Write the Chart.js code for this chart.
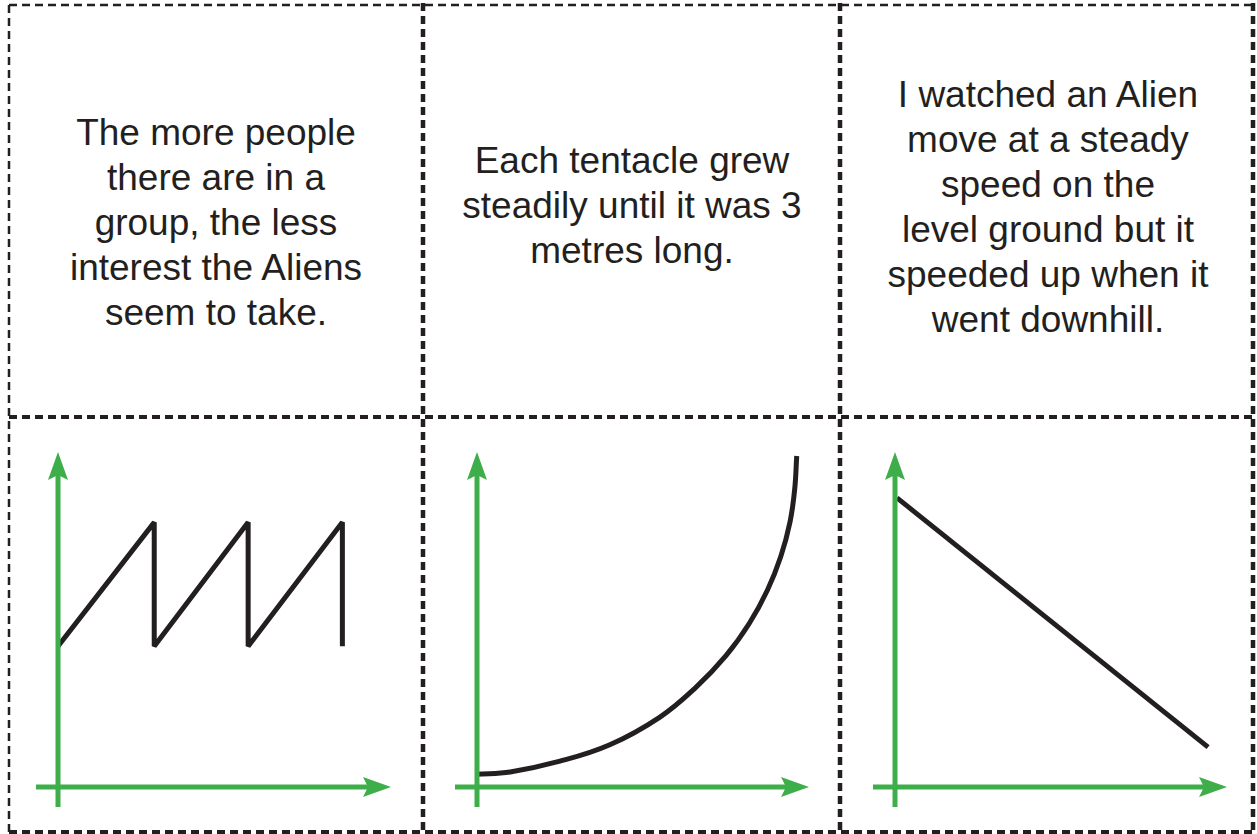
<!DOCTYPE html>
<html>
<head>
<meta charset="utf-8">
<script src="https://cdn.jsdelivr.net/npm/chart.js@4.4.1/dist/chart.umd.min.js"></script>
<style>
  html, body { margin: 0; padding: 0; background: #ffffff; }
  body { width: 1257px; height: 834px; overflow: hidden; position: relative; }
  svg.grid { position: absolute; left: 0; top: 0; }
  .card {
    position: absolute; width: 410px; text-align: center;
    font-family: "Liberation Sans", Arial, Helvetica, sans-serif;
    font-size: 37px; line-height: 45px; color: #231f20;
  }
  canvas { position: absolute; }
</style>
</head>
<body>
<script>
// ---- data (qualitative sketch graphs, unitless 0..10 axes) ----
const sawX   = [0, 2.89, 2.89, 5.71, 5.71, 8.54, 8.54];
const sawY   = [4.2, 7.9, 4.2, 7.9, 4.2, 7.9, 4.2];

const curveX = [0, 1.0, 2.5, 4.0, 5.5, 6.6, 7.5, 8.2, 8.75, 9.15, 9.43, 9.57, 9.63];
const curveY = [0.38, 0.45, 0.77, 1.26, 2.08, 2.98, 3.92, 4.88, 5.88, 6.88, 7.92, 8.9, 9.88];

const lineX  = [0.06, 9.43];
const lineY  = [8.63, 1.19];

const cardTexts = [
  ["The more people", "there are in a", "group, the less", "interest the Aliens", "seem to take."],
  ["Each tentacle grew", "steadily until it was 3", "metres long."],
  ["I watched an Alien", "move at a steady", "speed on the", "level ground but it", "speeded up when it", "went downhill."]
];
</script>

<svg class="grid" width="1257" height="834" xmlns="http://www.w3.org/2000/svg">
  <g stroke="#231f20" fill="none">
    <line x1="9" y1="5" x2="1255" y2="5" stroke-width="2.5" stroke-dasharray="8 5"/>
    <line x1="9" y1="5" x2="9" y2="834" stroke-width="2.5" stroke-dasharray="8 5"/>
    <line x1="9" y1="417" x2="1257" y2="417" stroke-width="4" stroke-dasharray="8 5"/>
    <line x1="423" y1="3" x2="423" y2="834" stroke-width="4.5" stroke-dasharray="8 5"/>
    <line x1="840" y1="3" x2="840" y2="834" stroke-width="4.5" stroke-dasharray="8 5"/>
    <line x1="1253" y1="3" x2="1253" y2="834" stroke-width="4.5" stroke-dasharray="8 5"/>
    <line x1="9" y1="832" x2="1257" y2="832" stroke-width="4" stroke-dasharray="8 5"/>
  </g>
</svg>

<div class="card" id="card0" style="left:11px; top:110px;"></div>
<div class="card" id="card1" style="left:427px; top:138px;"></div>
<div class="card" id="card2" style="left:843px; top:72px;"></div>

<canvas id="c1" width="408" height="408" style="left:12px; top:420px;"></canvas>
<canvas id="c2" width="408" height="408" style="left:427px; top:420px;"></canvas>
<canvas id="c3" width="408" height="408" style="left:844px; top:420px;"></canvas>

<script>
cardTexts.forEach((lines, i) => {
  const el = document.getElementById('card' + i);
  lines.forEach((t, j) => {
    if (j) el.appendChild(document.createElement('br'));
    el.appendChild(document.createTextNode(t));
  });
});

const GREEN = '#3eae4a';
const INK = '#231f20';

const arrowAxes = {
  id: 'arrowAxes',
  afterDatasetsDraw(chart) {
    const { ctx, scales: { x, y } } = chart;
    const x0 = x.getPixelForValue(0), y0 = y.getPixelForValue(0);
    const xEnd = x.getPixelForValue(x.max), yEnd = y.getPixelForValue(y.max);
    ctx.save();
    ctx.strokeStyle = GREEN; ctx.fillStyle = GREEN; ctx.lineWidth = 5; ctx.lineCap = 'butt';
    // x axis
    ctx.beginPath(); ctx.moveTo(x0 - 22, y0); ctx.lineTo(xEnd - 20, y0); ctx.stroke();
    ctx.beginPath();
    ctx.moveTo(xEnd, y0); ctx.lineTo(xEnd - 28, y0 - 10); ctx.lineTo(xEnd - 23, y0);
    ctx.lineTo(xEnd - 28, y0 + 10); ctx.closePath(); ctx.fill();
    // y axis
    ctx.beginPath(); ctx.moveTo(x0, y0 + 20); ctx.lineTo(x0, yEnd + 20); ctx.stroke();
    ctx.beginPath();
    ctx.moveTo(x0, yEnd); ctx.lineTo(x0 - 10, yEnd + 28); ctx.lineTo(x0, yEnd + 23);
    ctx.lineTo(x0 + 10, yEnd + 28); ctx.closePath(); ctx.fill();
    ctx.restore();
  }
};

function makeChart(id, xs, ys, pad, extra) {
  const pts = xs.map((v, i) => ({ x: v, y: ys[i] }));
  return new Chart(document.getElementById(id), {
    type: 'line',
    data: {
      datasets: [Object.assign({
        data: pts,
        borderColor: INK,
        borderWidth: 5,
        pointRadius: 0,
        fill: false,
        clip: false,
        borderCapStyle: 'butt',
        borderJoinStyle: 'bevel',
        tension: 0
      }, extra || {})]
    },
    options: {
      responsive: false,
      animation: false,
      events: [],
      layout: { padding: pad },
      plugins: { legend: { display: false }, tooltip: { enabled: false }, title: { display: false } },
      scales: {
        x: { type: 'linear', display: false, min: 0, max: 10 },
        y: { type: 'linear', display: false, min: 0, max: 10 }
      }
    },
    plugins: [arrowAxes]
  });
}

makeChart('c1', sawX, sawY, { left: 46, right: 29, top: 32, bottom: 41 });
makeChart('c2', curveX, curveY, { left: 50, right: 26, top: 32, bottom: 41 },
          { tension: 0.4, borderJoinStyle: 'round' });
makeChart('c3', lineX, lineY, { left: 51, right: 25, top: 32, bottom: 41 });
</script>
</body>
</html>
